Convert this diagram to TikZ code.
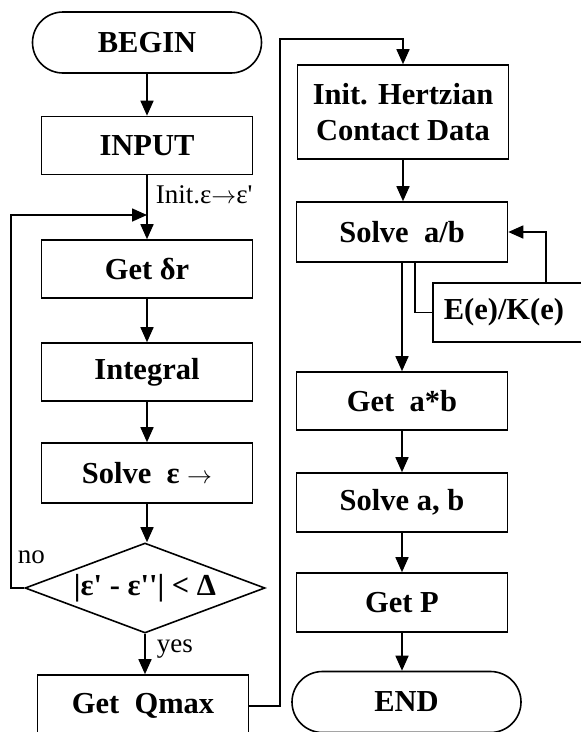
\documentclass[tikz,border=0pt]{standalone}
\usepackage{fontspec}
\setmainfont{Liberation Serif}[Ligatures=TeXOff]
\usetikzlibrary{arrows.meta,positioning,shapes.geometric,shapes.misc,calc}

\begin{document}
\begin{tikzpicture}[
  x=1pt, y=-1pt,
  >={Triangle[length=15pt,width=13pt]},
  line width=1.6pt,
  every node/.style={font=\fontsize{30.5}{36}\selectfont\bfseries},
  box/.style={draw, rectangle, minimum width=211pt, minimum height=58pt,
              inner sep=0pt, align=center},
  term/.style={draw, rounded rectangle, minimum width=229pt,
               minimum height=61pt, inner sep=0pt},
  test/.style={draw, diamond, aspect=2.67, minimum width=240pt,
               minimum height=90pt, inner sep=0pt},
  note/.style={font=\fontsize{27}{30}\selectfont, inner sep=0pt},
  arr/.style={->}
]
\useasboundingbox (0,0) rectangle (581,732);
\clip (0,0) rectangle (581,732);
%% left column
\node[term] (begin) at (147,42.5) {BEGIN};
\node[box] (input) at (147,145.5) {INPUT};
\node[box] (getdr) at (147,269) {Get~δr};
\node[box] (integ) at (147,372) {Integral};
\node[box, minimum height=60pt] (solveeps) at (147,473) {Solve~~ε~$\rightarrow$};
\node[test] (cond) at (145,588) {|ε' - ε''| < Δ};
\node[box, minimum height=62pt] (qmax) at (143,706) {Get~~Qmax};
%% labels
\node[note, anchor=base west] (initlbl) at (155,203) {Init.ε$\rightarrow$ε'};
\node[note, anchor=base west] (nolbl) at (17,563) {no};
\node[note, anchor=base west] (yeslbl) at (156,652) {yes};
%% right column
\node[box, minimum height=94pt] (hertz) at (403,112) {Init. Hertzian\\Contact Data};
\node[box, minimum height=60pt] (solveab) at (402,232) {Solve~~a/b};
\node[box, anchor=west, minimum width=0pt, text width=150pt, align=left,
      inner xsep=11pt, minimum height=59pt] (ek) at (432,312.5) {E(e)/K(e)};
\node[box] (getab) at (402,401) {Get~~a*b};
\node[box, minimum height=59pt] (solveab2) at (402,502.5) {Solve~a,~b};
\node[box, minimum height=59pt] (getp) at (402,602.5) {Get~P};
\node[term] (end) at (406.5,702) {END};
%% connectors, left
\draw[arr] (begin) -- (input);
\draw[arr] (input) -- (getdr);
\coordinate (merge) at (147,215);
\draw[arr] (cond.west) -- ++(-13,0) |- (merge);
\draw[arr] (getdr) -- (integ);
\draw[arr] (integ) -- (solveeps);
\draw[arr] (solveeps.south) -- (solveeps.south |- cond.north);
\draw[arr] (cond.south) -- (cond.south |- qmax.north);
%% jump to right column
\coordinate (turn) at (280,39);
\draw[arr] (qmax.east) -| (turn) -| (hertz.north);
%% connectors, right
\draw[arr] (hertz.south) -- (hertz.south |- solveab.north);
\draw[arr] (solveab) -- (getab);
\draw ($(solveab.south)+(13,0)$) |- (ek.west);
\draw[arr] ($(ek.north west)+(114,0)$) |- (solveab.east);
\draw[arr] (getab) -- (solveab2);
\draw[arr] (solveab2) -- (getp);
\draw[arr] (getp.south) -- (getp.south |- end.north);
\end{tikzpicture}
\end{document}
